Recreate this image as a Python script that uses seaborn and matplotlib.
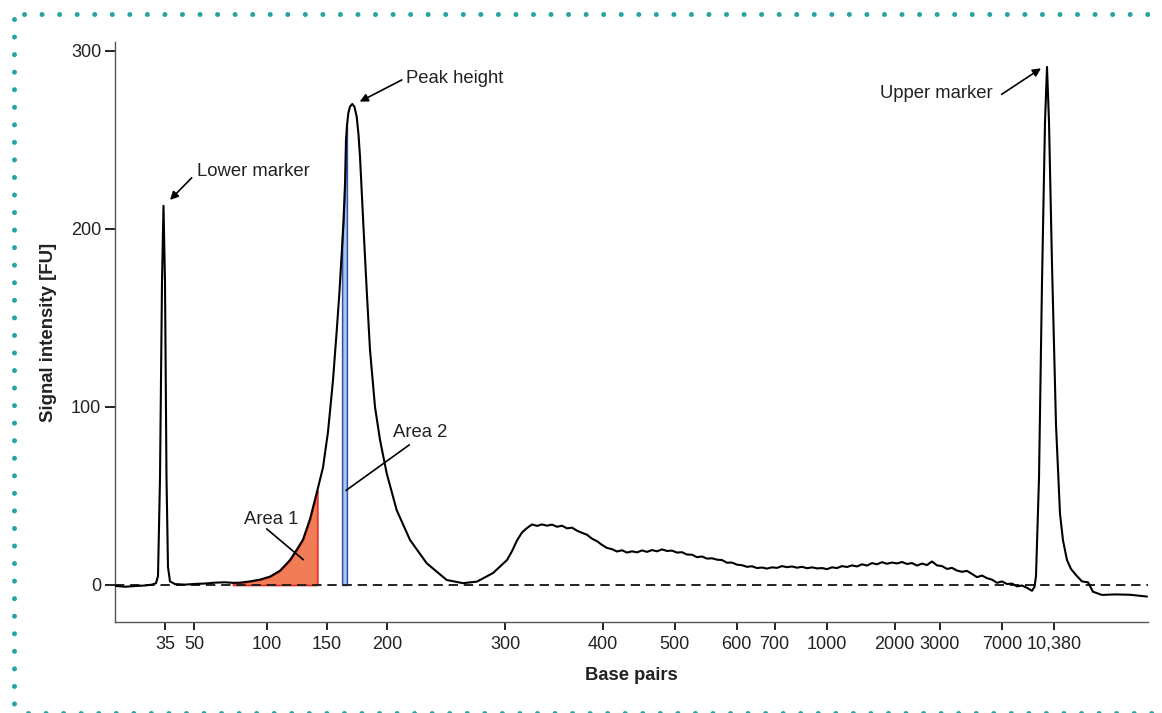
import numpy as np
import pandas as pd
import seaborn as sns
import matplotlib.pyplot as plt
from matplotlib.lines import Line2D

# electropherogram trace: migration time (s) vs signal (FU)
time_s = [40.0, 41.0, 42.0, 43.0, 43.7, 44.1, 44.3, 44.5, 44.7, 44.85, 45.0, 45.15, 45.3, 45.5,
          46.0, 47.0, 48.0, 49.0, 50.0, 51.0, 51.8, 52.5, 53.5, 54.5, 55.5, 56.5, 57.5, 58.2,
          58.8, 59.5, 60.23, 60.8, 61.3, 61.8, 62.2, 62.45, 62.67, 62.85, 63.0, 63.1, 63.2,
          63.33, 63.5, 63.73, 63.95, 64.17, 64.35, 64.5, 64.83, 65.17, 65.5, 66.0, 66.5, 67.17,
          68.17, 69.5, 71.17, 73.17, 74.8, 76.2, 77.8,
          79.2, 79.7, 80.2, 80.7, 81.2, 81.7, 82.2, 82.7, 83.2, 83.7, 84.2, 84.7, 85.2, 85.7,
          86.2, 86.7, 87.2, 87.7, 88.2, 88.7, 89.2, 89.7, 90.2, 90.7, 91.2, 91.7, 92.2, 92.7,
          93.2, 93.7, 94.2, 94.7, 95.2, 95.7, 96.2, 96.7, 97.2, 97.7, 98.2, 98.7, 99.2, 99.7,
          100.2, 100.7, 101.2, 101.7, 102.2, 102.7, 103.2, 103.7, 104.2, 104.7, 105.2, 105.7,
          106.2, 106.7, 107.2, 107.7, 108.2, 108.7, 109.2, 109.7, 110.2, 110.7, 111.2, 111.7,
          112.2, 112.7, 113.2, 113.7, 114.2, 114.7, 115.2, 115.7, 116.2, 116.7, 117.2, 117.7,
          118.2, 118.7, 119.2, 119.7, 120.2, 120.7, 121.2, 121.7, 122.2, 122.7, 123.2, 123.7,
          124.2, 124.7, 125.2, 125.7, 126.2, 126.7, 127.2, 127.7, 128.2, 128.7, 129.2, 129.7,
          130.2, 130.7, 131.2, 131.7,
          131.95, 132.1, 132.4, 132.7, 133.0, 133.2, 133.4, 133.7, 134.1, 134.5, 134.8, 135.2,
          135.6, 136.1, 136.7, 137.3, 137.8, 138.7, 140.0, 141.5, 143.2]
signal_fu = [-0.5, -1.0, -0.6, -0.3, 0.2, 1.0, 5, 60, 170, 213, 170, 60, 10, 2,
             0.5, 0.2, 0.6, 0.8, 1.3, 1.5, 1.2, 1.3, 2.0, 3.0, 4.7, 8, 14, 20,
             25.5, 37, 53, 66, 86, 115, 145, 165, 186, 205, 225, 250, 258,
             265, 268.7, 270.2, 268.5, 263, 253, 240.6, 203, 165.7, 132, 100, 81.5, 62.7,
             42, 25.3, 12.2, 2.8, 1.0, 1.9, 6.7,
             14, 19, 25, 29.5, 32, 34, 33.2, 34, 33.3, 33.9, 32.7, 33.3, 31.8, 32.2,
             30.5, 29.3, 28.2, 26, 24.6, 22.5, 20.8, 20.1, 18.8, 19.5, 18.2, 18.9, 18.3, 19.4,
             18.6, 19.6, 18.9, 20.0, 19.1, 19.3, 18.2, 18.4, 17.1, 17.0, 15.6, 16.0, 14.8, 15.0,
             14.2, 14.0, 12.5, 12.6, 11.4, 11.1, 10.2, 10.5, 9.5, 9.8, 9.2, 9.9,
             9.6, 10.6, 10.0, 10.4, 9.7, 10.2, 9.4, 9.9, 9.3, 9.5, 8.9, 9.9,
             9.5, 10.6, 10.1, 11.0, 10.4, 11.6, 10.9, 12.3, 11.6, 12.8, 11.9, 12.6,
             12.1, 12.9, 11.8, 12.3, 10.9, 12.0, 11.2, 13.2, 11.0, 10.6, 9.0, 9.6,
             8.1, 7.4, 7.9, 6.2, 4.4, 5.3, 3.8, 3.0, 1.2, 2.0, 0.5, 0.8,
             -0.8, -0.3, -1.6, -3.3,
             -1, 5, 60, 170, 260, 291, 260, 180, 90, 40, 25, 14,
             9, 5.6, 2, 1.5, -3.8, -5.6, -5.3, -5.5, -6.5]

# size ladder ticks (bp) at their migration times
bp_tick_time = [45.0, 47.9, 55.2, 61.2, 67.2, 79.0, 88.8, 95.95, 102.15, 105.95,
                111.15, 117.96, 122.5, 128.7, 133.9]
bp_tick_labels = ['35', '50', '100', '150', '200', '300', '400', '500', '600', '700',
                  '1000', '2000', '3000', '7000', '10,380']

area1_range = (51.8, 60.23)
area2_range = (62.71, 63.19)

df = pd.DataFrame({'time': time_s, 'fu': signal_fu})

sns.set_theme(style='white')
plt.rcParams['font.family'] = ['Liberation Sans', 'DejaVu Sans']

fig = plt.figure(figsize=(11.62, 7.13), dpi=100)
ax = fig.add_axes([115 / 1162, 1 - 622 / 713, 1033 / 1162, 580 / 713])

# shaded areas under the trace
xa = np.linspace(*area1_range, 60)
ya = np.interp(xa, df['time'], df['fu'])
ax.fill_between(xa, 0, ya, facecolor='#F07D55', edgecolor='#E8302A', lw=1.3, zorder=2)
xb = np.linspace(*area2_range, 20)
yb = np.interp(xb, df['time'], df['fu'])
ax.fill_between(xb, 0, yb, facecolor='#A9C8EC', edgecolor='#3050A8', lw=1.1, zorder=2)

ax.axhline(0, color='#222222', lw=1.4, ls=(0, (4.8, 3)), zorder=3)
sns.lineplot(data=df, x='time', y='fu', color='black', lw=1.5, ax=ax, zorder=4)

ax.set_xlim(40, 143.3)
ax.set_ylim(-20.8, 305)
ax.set_xticks(bp_tick_time, bp_tick_labels)
ax.set_yticks([0, 100, 200, 300])

for s in ['top', 'right']:
    ax.spines[s].set_visible(False)
for s in ['left', 'bottom']:
    ax.spines[s].set_color('#555555')
    ax.spines[s].set_linewidth(1.0)

ax.tick_params(axis='x', direction='out', length=6, width=1.4, color='#222222',
               pad=4, labelsize=13, labelcolor='#222222', bottom=True)
ax.tick_params(axis='y', direction='out', length=7, width=1.4, color='#222222',
               pad=3, labelsize=13, labelcolor='#222222', left=True)

ax.set_xlabel('Base pairs', fontsize=13.2, fontweight='bold', color='#222222', labelpad=10)
ax.set_ylabel('Signal intensity [FU]', fontsize=13.4, fontweight='bold', color='#222222')
ax.yaxis.set_label_coords(-0.056, 0.5)

arrow = dict(arrowstyle='-|>', color='black', lw=1.2, mutation_scale=12, shrinkA=0, shrinkB=0)
line = dict(arrowstyle='-', color='black', lw=1.2, shrinkA=0, shrinkB=0)
txt = dict(fontsize=13.3, color='#222222', va='center')

ax.annotate('', xy=(45.5, 216.3), xytext=(47.67, 228.7), arrowprops=arrow)
ax.text(48.2, 232, 'Lower marker', ha='left', **txt)
ax.annotate('', xy=(64.47, 271.5), xytext=(68.68, 283.7), arrowprops=arrow)
ax.text(69.14, 284.3, 'Peak height', ha='left', **txt)
ax.annotate('', xy=(132.6, 290.2), xytext=(128.67, 275.6), arrowprops=arrow)
ax.text(127.8, 276, 'Upper marker', ha='right', **txt)
ax.annotate('', xy=(63.1, 53.1), xytext=(69.43, 78.7), arrowprops=line)
ax.text(67.83, 85.4, 'Area 2', ha='left', **txt)
ax.annotate('', xy=(58.83, 14.2), xytext=(55.17, 31.5), arrowprops=line)
ax.text(52.9, 37, 'Area 1', ha='left', **txt)

# teal dotted frame
teal = '#26A3A3'
dots = dict(color=teal, lw=3.6, ls=(0, (0.01, 3.5)), dash_capstyle='round',
            transform=fig.transFigure)
fig.add_artist(Line2D([24 / 1162, 1.0], [1 - 14 / 713] * 2, **dots))
fig.add_artist(Line2D([14 / 1162] * 2, [1 - 19 / 713, 0.0], **dots))
fig.add_artist(Line2D([28 / 1162, 1.0], [1 - 712.5 / 713] * 2, **dots))

plt.savefig('out.png', dpi=100)
